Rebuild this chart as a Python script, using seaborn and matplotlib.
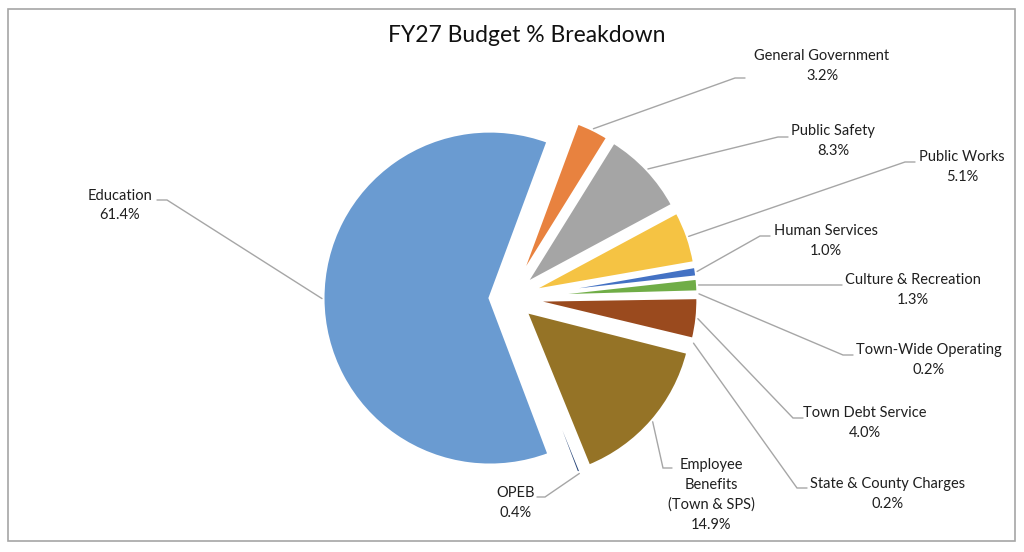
import numpy as np
import matplotlib
matplotlib.use("Agg")
import matplotlib.pyplot as plt
import seaborn as sns

# FY27 budget shares (%), in the workbook's point order
categories = ["Education", "General Government", "Public Safety", "Public Works",
              "Human Services", "Culture & Recreation", "Town-Wide Operating",
              "Town Debt Service", "State & County Charges",
              "Employee\nBenefits\n(Town & SPS)", "OPEB"]
shares = [61.4, 3.2, 8.3, 5.1, 1.0, 1.3, 0.2, 4.0, 0.2, 14.9, 0.4]
palette = ["#6A9BD1", "#E8823F", "#A5A5A5", "#F5C343", "#4472C4", "#70AD47",
           "#255E91", "#9A4A1E", "#636363", "#957326", "#264478"]

W, H = 1024, 552


def py(y):
    # pixel row (top-down) -> data y (bottom-up)
    return H - y


# label block centres and leader-line elbows/ends, in pixels
label_xy = [(120, 205.5), (822, 66), (833, 141), (962, 167), (826, 241), (913, 290),
            (929, 360), (865, 423), (888, 494), (711, 495), (516, 503)]
elbow_xy = [(167, 200), (735, 78), (778, 137), (905, 162), (760, 236), (832, 285),
            (843, 355), (793, 418), (797, 488), (663, 468), (545, 497)]
end_xy = [(157, 200), (745, 78), (788, 137), (915, 162), (770, 236), (842, 285),
          (853, 355), (803, 418), (807, 488), (672, 468), (537, 497)]


def main():
    sns.set_style("white")
    plt.rcParams["font.family"] = ["Lato", "DejaVu Sans"]

    fig = plt.figure(figsize=(W / 100, H / 100), dpi=100)
    ax = fig.add_axes([0, 0, 1, 1])

    radius = 167
    wedges, _ = ax.pie(shares, colors=sns.color_palette(palette),
                       startangle=-69.3, counterclock=False,
                       radius=radius, center=(510.5, py(298)),
                       explode=[20.5] * len(shares),
                       wedgeprops=dict(edgecolor="white", linewidth=2.2))

    line_col = "#A6A6A6"
    for w, name, val, lxy, exy, nxy in zip(wedges, categories, shares,
                                           label_xy, elbow_xy, end_xy):
        th = np.deg2rad((w.theta1 + w.theta2) / 2)
        cx, cy = w.center
        sx = cx + (w.r + 1) * np.cos(th)
        sy = cy + (w.r + 1) * np.sin(th)
        ax.plot([sx, exy[0], nxy[0]], [sy, py(exy[1]), py(nxy[1])],
                color=line_col, lw=1, solid_joinstyle="miter", zorder=1)
        ax.text(lxy[0], py(lxy[1]), f"{name}\n{val:.1f}%", ha="center", va="center",
                fontsize=10.5, color="#1f1f1f", linespacing=1.52)

    ax.text(527, py(35), "FY27 Budget % Breakdown", ha="center", va="center",
            fontsize=16.5, color="#111111")

    ax.add_patch(plt.Rectangle((8, py(541)), 1007, 532, fill=False,
                               edgecolor="#A6A6A6", lw=1.2))

    ax.set_xlim(0, W)
    ax.set_ylim(0, H)
    ax.set_aspect("equal")
    ax.axis("off")

    fig.savefig("out.png", dpi=100)
    plt.close(fig)


if __name__ == "__main__":
    main()
